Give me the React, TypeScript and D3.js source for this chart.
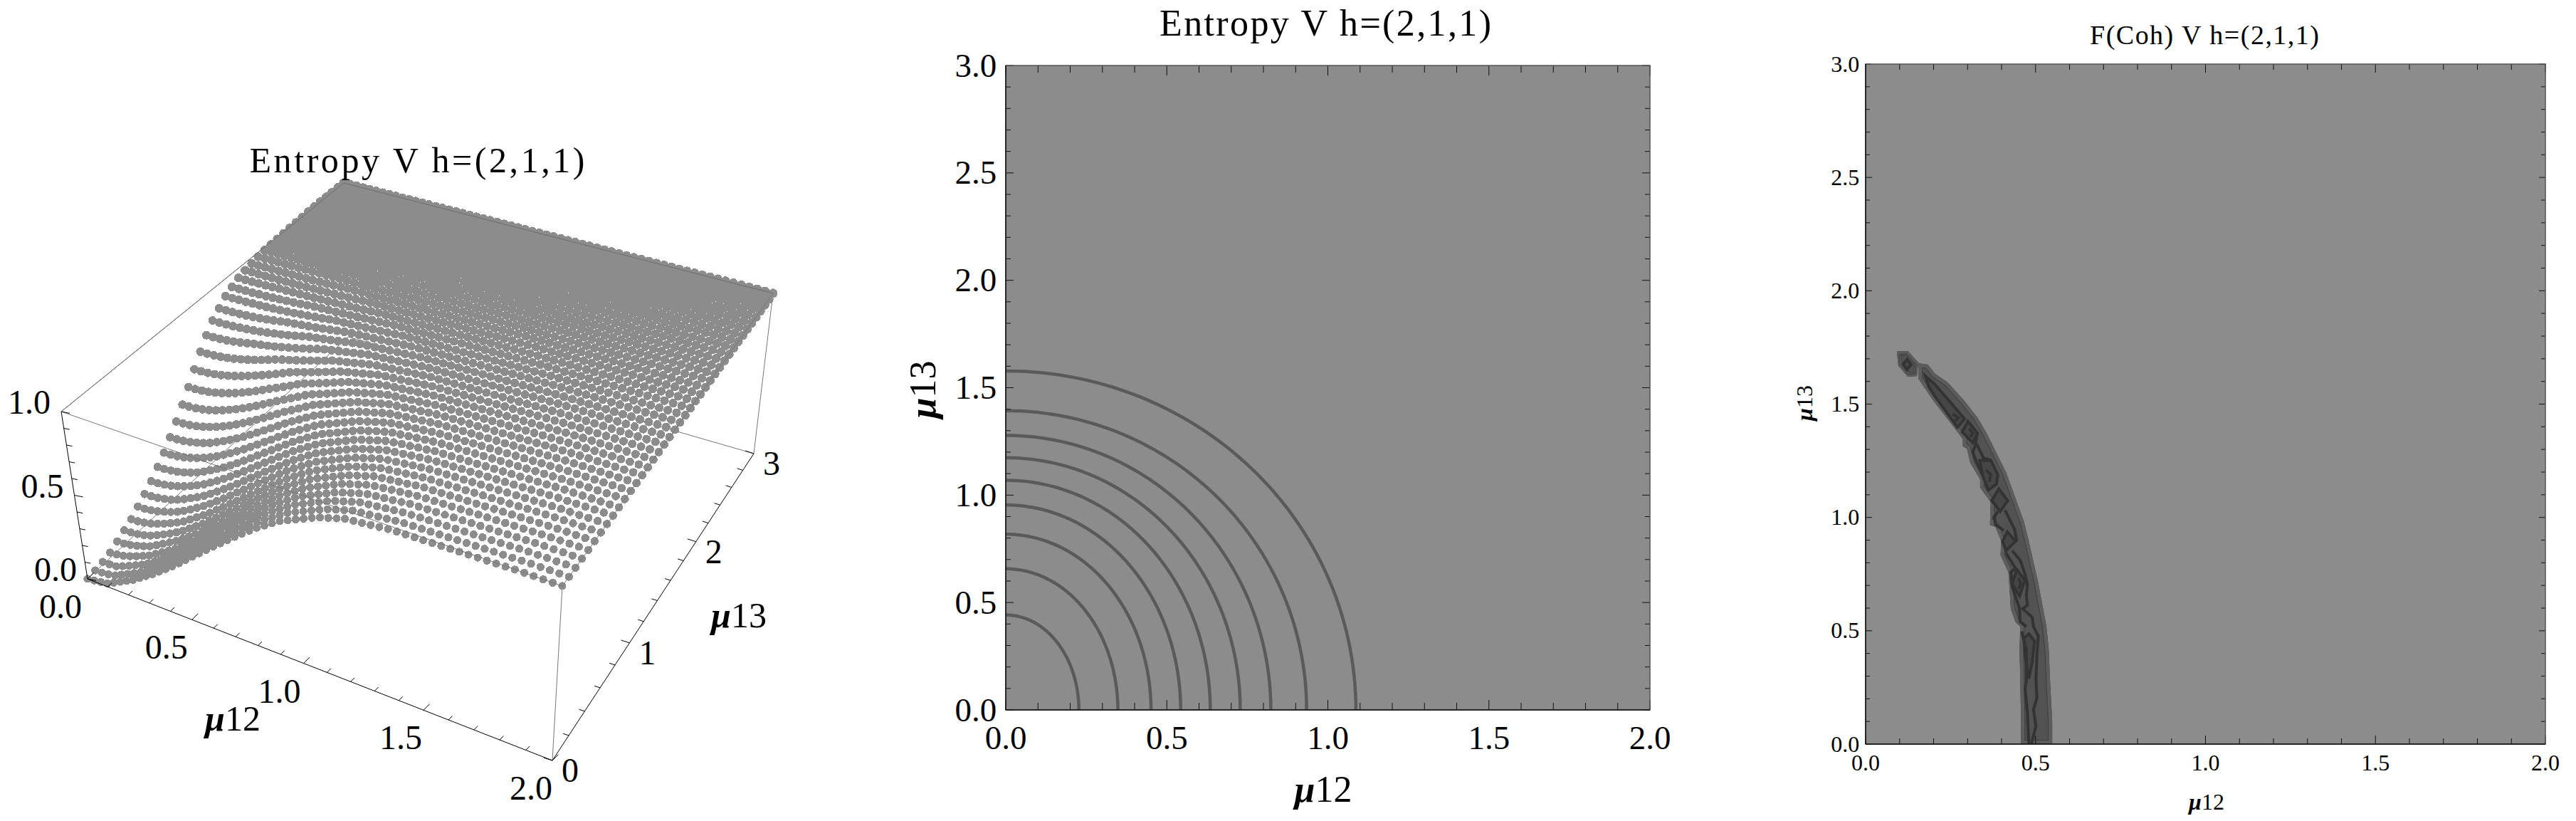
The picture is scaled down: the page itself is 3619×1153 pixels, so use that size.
import React from "react";
import * as d3 from "d3";

// ---------- data ----------
const entropyLevels = [0, 0.02, 0.1, 0.2, 0.3, 0.4, 0.5, 0.6, 0.7, 0.8, 0.9, 0.95, 0.98, 1];
const radiiMu12 = [0.001, 0.1, 0.227, 0.348, 0.451, 0.543, 0.635, 0.728, 0.823, 0.934, 1.087, 1.2, 1.38, 1.85];
const radiiMu13 = [0.002, 0.2, 0.442, 0.657, 0.818, 0.954, 1.069, 1.174, 1.278, 1.393, 1.578, 1.75, 2.0, 2.6];
const contourLevelIdx = [2, 3, 4, 5, 6, 7, 8, 9, 10];

const mu12Samples = d3.range(0, 61).map((i) => i / 30);
const mu13Samples = d3.range(0, 41).map((i) => (i * 3) / 40);

const mu12Ticks = [0, 0.5, 1, 1.5, 2];
const mu13Ticks = [0, 0.5, 1, 1.5, 2, 2.5, 3];
const mu13Ticks3D = [0, 1, 2, 3];
const zTicks = [0, 0.5, 1];

type P = [number, number];
const cohIsland: P[] = [[.092,1.733],[.125,1.733],[.155,1.683],[.151,1.623],[.124,1.621],[.096,1.670]];
const cohBand: P[] = [[.155,1.681],[.183,1.674],[.204,1.634],[.242,1.595],[.291,1.513],[.329,1.440],[.354,1.377],[.382,1.293],[.413,1.199],[.441,1.084],[.466,.979],[.480,.895],[.494,.801],[.507,.717],[.532,.518],[.539,.414],[.542,.298],[.549,.100],[.549,0],[.457,0],[.457,.120],[.455,.288],[.453,.414],[.455,.518],[.441,.539],[.427,.597],[.424,.675],[.420,.759],[.397,.833],[.399,.895],[.382,.958],[.366,.967],[.368,1.068],[.337,1.131],[.337,1.168],[.308,1.241],[.298,1.304],[.286,1.314],[.286,1.346],[.249,1.419],[.200,1.513],[.179,1.560],[.155,1.613]];
const cohClosed: P[][] = [
  [[.110,1.676],[.122,1.697],[.134,1.674],[.122,1.652]],
  [[.176,1.623],[.204,1.587],[.270,1.472],[.291,1.435],[.270,1.398],[.204,1.534],[.186,1.576]],
  [[.301,1.424],[.329,1.372],[.315,1.330],[.284,1.377]],
  [[.336,1.252],[.368,1.252],[.389,1.189],[.385,1.147],[.361,1.121],[.343,1.189]],
  [[.392,1.126],[.418,1.074],[.396,1.027],[.371,1.074]],
  [[.417,.937],[.441,.895],[.413,.853],[.403,.895]],
  [[.445,.770],[.469,.722],[.453,.654],[.431,.707]],
  [[.480,.487],[.497,.455],[.490,.361],[.480,.288],[.469,.393],[.466,.466]],
];
const cohOpen: P[][] = [
  [[.256,1.456],[.273,1.440],[.263,1.424]],
  [[.305,1.393],[.315,1.372],[.308,1.356]],
  [[.329,1.372],[.322,1.314],[.315,1.288],[.329,1.236],[.343,1.189]],
  [[.326,1.325],[.347,1.262],[.368,1.252]],
  [[.354,1.210],[.368,1.189],[.364,1.157]],
  [[.389,1.027],[.375,.990]],
  [[.378,1.011],[.382,.969],[.406,.943]],
  [[.410,1.032],[.438,.948],[.445,.896]],
  [[.431,.853],[.455,.811],[.469,.749],[.476,.707],[.473,.654],[.476,.612],[.462,.597],[.490,.560],[.494,.518],[.508,.476],[.504,.393],[.501,.288],[.504,.204],[.494,.152],[.501,.078],[.490,.016],[.488,0]],
  [[.413,.843],[.441,.775],[.427,.759],[.431,.696],[.452,.602],[.455,.539],[.473,.518]],
  [[.450,.733],[.457,.707],[.450,.684]],
  [[.459,.497],[.473,.414],[.473,.277],[.469,.246],[.476,.141],[.480,0]],
];
const cohThin: P[] = [[.099,1.718],[.120,1.723],[.148,1.676],[.146,1.634],[.125,1.631],[.101,1.676]];

// ---------- style ----------
const GREY = "#8c8c8c";
const FONT = "'Liberation Serif', serif";
const W = 3619, H = 1153;

// ---------- 3D projection: box corners as seen in the picture ----------
type Pt = [number, number];
function quadMap(p0: Pt, p1: Pt, p2: Pt, p3: Pt) {
  const dx1 = p1[0] - p2[0], dx2 = p3[0] - p2[0], sx = p0[0] - p1[0] + p2[0] - p3[0];
  const dy1 = p1[1] - p2[1], dy2 = p3[1] - p2[1], sy = p0[1] - p1[1] + p2[1] - p3[1];
  const den = dx1 * dy2 - dx2 * dy1;
  const g = (sx * dy2 - dx2 * sy) / den, h = (dx1 * sy - sx * dy1) / den;
  const a = p1[0] - p0[0] + g * p1[0], b = p3[0] - p0[0] + h * p3[0], c = p0[0];
  const d = p1[1] - p0[1] + g * p1[1], e = p3[1] - p0[1] + h * p3[1], f = p0[1];
  return (u: number, v: number): Pt => {
    const w = g * u + h * v + 1;
    return [(a * u + b * v + c) / w, (d * u + e * v + f) / w];
  };
}
const floorMap = quadMap([123, 813], [776, 1068], [1059, 637], [489, 473]);
const roofMap = quadMap([86, 578], [790, 823], [1086, 412], [483, 257]);
const uScale = d3.scaleLinear().domain([0, 2]).range([0, 1]);
const vScale = d3.scaleLinear().domain([0, 3]).range([0, 1]);
function project(m12: number, m13: number, z: number): Pt {
  const a = floorMap(uScale(m12), vScale(m13));
  const b = roofMap(uScale(m12), vScale(m13));
  return [a[0] + (b[0] - a[0]) * z, a[1] + (b[1] - a[1]) * z];
}
const aOf = d3.scaleLinear().domain(entropyLevels).range(radiiMu12);
const bOf = d3.scaleLinear().domain(entropyLevels).range(radiiMu13);
function entropyAt(x: number, y: number) {
  let lo = 0, hi = 1;
  if ((x / aOf(1)) ** 2 + (y / bOf(1)) ** 2 >= 1) return 1;
  for (let i = 0; i < 30; i++) {
    const m = (lo + hi) / 2;
    if ((x / aOf(m)) ** 2 + (y / bOf(m)) ** 2 > 1) lo = m; else hi = m;
  }
  return (lo + hi) / 2;
}

const seg = (p: Pt, q: Pt, stroke: string, key: string, w = 1) => (
  <line key={key} x1={p[0]} y1={p[1]} x2={q[0]} y2={q[1]} stroke={stroke} strokeWidth={w} />
);
const MuLabel = ({ n }: { n: string }) => (
  <>
    <tspan fontStyle="italic" fontWeight="bold">μ</tspan>
    <tspan>{n}</tspan>
  </>
);

function Surface3D() {
  const boxC = "#777";
  const P = project;
  const minor12 = d3.range(0, 21).map((i) => i / 10);
  const minor13 = d3.range(0, 16).map((i) => i / 5);
  const minorZ = d3.range(0, 11).map((i) => i / 10);
  const isMaj = (v: number, s: number) => Math.abs(v / s - Math.round(v / s)) < 1e-6;
  return (
    <g>
      {seg(P(0, 0, 0), P(0, 3, 0), boxC, "b1")}
      {seg(P(0, 3, 0), P(2, 3, 0), boxC, "b2")}
      {seg(P(2, 3, 0), P(2, 3, 1), boxC, "b3")}
      {seg(P(2, 0, 0), P(2, 0, 1), boxC, "b4")}
      {seg(P(0, 0, 1), P(0, 3, 1), boxC, "b5")}
      <g fill={GREY} shapeRendering="crispEdges">
        {mu12Samples.flatMap((a) =>
          mu13Samples.map((b) => {
            const [x, y] = P(a, b, entropyAt(a, b));
            return <circle key={`${a}-${b}`} cx={x} cy={y} r={5.6 + (1.0 * b) / 3} />;
          })
        )}
      </g>
      {seg(P(0, 0, 1), P(2, 0, 1), boxC, "t1")}
      {seg(P(2, 0, 1), P(2, 3, 1), boxC, "t2")}
      {seg(P(0, 3, 1), P(2, 3, 1), "#6c6c6c", "t3")}
      {seg(P(0, 0, 1), P(0, 3, 1), "#6c6c6c", "t4")}
      {seg(P(0, 0, 0), P(2, 0, 0), "#000", "a1")}
      {seg(P(2, 0, 0), P(2, 3, 0), "#000", "a2")}
      {seg(P(0, 0, 0), P(0, 0, 1), "#000", "a3")}
      <g stroke="#000" strokeWidth={1}>
        {minor12.map((t) => {
          const [x, y] = P(t, 0, 0);
          const l = isMaj(t, 0.5) ? 8.5 : 5.5;
          return <line key={t} x1={x} y1={y} x2={x + l} y2={y - l} />;
        })}
        {minor13.map((t) => {
          const [x, y] = P(2, t, 0);
          const l = isMaj(t, 1) ? 12 : 8;
          return <line key={t} x1={x} y1={y} x2={x - l} y2={y - l * 0.32} />;
        })}
        {minorZ.map((t) => {
          const [x, y] = P(0, 0, t);
          const l = isMaj(t, 0.5) ? 12 : 8;
          return <line key={t} x1={x} y1={y} x2={x + l} y2={y + l * 0.2} />;
        })}
      </g>
      <g fontFamily={FONT} fontSize={48} fill="#000">
        {mu12Ticks.map((t) => {
          const [x, y] = P(t, 0, 0);
          return <text key={t} x={x - 38 + 4 * t} y={y + 55} textAnchor="middle">{d3.format(".1f")(t)}</text>;
        })}
        {mu13Ticks3D.map((t) => {
          const [x, y] = P(2, t, 0);
          return <text key={t} x={x + 25} y={y + 30} textAnchor="middle">{t}</text>;
        })}
        {zTicks.map((t) => {
          const [x, y] = P(0, 0, t);
          return <text key={t} x={x - 15} y={y + 3} textAnchor="end">{d3.format(".1f")(t)}</text>;
        })}
      </g>
      <g fontFamily={FONT} fontSize={50} fill="#000" textAnchor="middle">
        <text x={327} y={1026}><MuLabel n="12" /></text>
        <text x={1038} y={881}><MuLabel n="13" /></text>
        <text x={586} y={242} textLength={471} lengthAdjust="spacing">Entropy V h=(2,1,1)</text>
      </g>
    </g>
  );
}

type Box = { l: number; r: number; t: number; b: number };
function Frame({ box, tickFont, maj, min, children }: { box: Box; tickFont: number; maj: [number, number]; min: [number, number]; children?: React.ReactNode }) {
  const x = d3.scaleLinear().domain([0, 2]).range([box.l, box.r]);
  const y = d3.scaleLinear().domain([0, 3]).range([box.b, box.t]);
  const xt = d3.range(0, 21).map((i) => i / 10);
  const yt = d3.range(0, 31).map((i) => i / 10);
  const isM = (v: number) => Math.abs(v * 2 - Math.round(v * 2)) < 1e-6;
  return (
    <g>
      <rect x={box.l} y={box.t} width={box.r - box.l} height={box.b - box.t} fill={GREY} />
      {children}
      <g stroke="#111" strokeWidth={1}>
        {xt.map((t) => {
          const l = isM(t) ? maj[0] : min[0];
          return (
            <g key={t}>
              <line x1={x(t)} x2={x(t)} y1={box.b} y2={box.b - l} />
              <line x1={x(t)} x2={x(t)} y1={box.t} y2={box.t + l} />
            </g>
          );
        })}
        {yt.map((t) => {
          const l = isM(t) ? maj[1] : min[1];
          return (
            <g key={t}>
              <line y1={y(t)} y2={y(t)} x1={box.l} x2={box.l + l} />
              <line y1={y(t)} y2={y(t)} x1={box.r} x2={box.r - l} />
            </g>
          );
        })}
      </g>
      <rect x={box.l} y={box.t} width={box.r - box.l} height={box.b - box.t} fill="none" stroke="#555" strokeWidth={1.5} />
      <line x1={box.l} x2={box.r} y1={box.b} y2={box.b} stroke="#111" strokeWidth={1.5} />
      <line x1={box.l} x2={box.l} y1={box.t} y2={box.b} stroke="#111" strokeWidth={1.5} />
      <g fontFamily={FONT} fontSize={tickFont} fill="#000">
        {mu12Ticks.map((t) => (
          <text key={t} x={x(t)} y={box.b + tickFont * 1.16} textAnchor="middle">{d3.format(".1f")(t)}</text>
        ))}
        {mu13Ticks.map((t) => (
          <text key={t} x={box.l - tickFont * 0.27} y={y(t) + tickFont * 0.33} textAnchor="end">{d3.format(".1f")(t)}</text>
        ))}
      </g>
    </g>
  );
}

function ContourPanel() {
  const box = { l: 1413, r: 2318, t: 92, b: 997 };
  const x = d3.scaleLinear().domain([0, 2]).range([box.l, box.r]);
  const y = d3.scaleLinear().domain([0, 3]).range([box.b, box.t]);
  const angles = d3.range(0, 91, 1.5).map((d) => (d * Math.PI) / 180);
  const line = d3.line<number>();
  return (
    <g>
      <clipPath id="p2"><rect x={box.l} y={box.t} width={box.r - box.l} height={box.b - box.t} /></clipPath>
      <Frame box={box} tickFont={47} maj={[14, 11]} min={[10, 7]}>
        <g clipPath="url(#p2)" fill="none" stroke="#5a5a5a" strokeWidth={4.5}>
          {contourLevelIdx.map((i) => (
            <path key={i} d={line(angles.map((a) => [x(radiiMu12[i] * Math.cos(a)), y(radiiMu13[i] * Math.sin(a))]) as any) as any} />
          ))}
        </g>
      </Frame>
      <g fontFamily={FONT} fontSize={52} fill="#000" textAnchor="middle">
        <text x={1862} y={50} textLength={466} lengthAdjust="spacing">Entropy V h=(2,1,1)</text>
        <text x={1859} y={1126}><MuLabel n="12" /></text>
        <text transform="translate(1314,547) rotate(-90)"><MuLabel n="13" /></text>
      </g>
    </g>
  );
}

function CohPanel() {
  const box = { l: 2621, r: 3576, t: 90, b: 1045 };
  const x = d3.scaleLinear().domain([0, 2]).range([box.l, box.r]);
  const y = d3.scaleLinear().domain([0, 3]).range([box.b, box.t]);
  const line = d3.line<P>().x((d) => x(d[0])).y((d) => y(d[1]));
  const closed = (p: P[]) => (line(p) as string) + "Z";
  const shapes = [closed(cohIsland), closed(cohBand)];
  return (
    <g>
      <clipPath id="p3a"><path d={shapes[0]} /></clipPath>
      <clipPath id="p3b"><path d={shapes[1]} /></clipPath>
      <Frame box={box} tickFont={32} maj={[12, 9]} min={[8, 6]}>
        {shapes.map((d, i) => (
          <g key={i} clipPath={`url(#p3${i ? "b" : "a"})`}>
            <path d={d} fill="#525252" />
            <path d={d} fill="none" stroke="#3f3f3f" strokeWidth={12} />
            <path d={d} fill="none" stroke="#5c5c5c" strokeWidth={10} />
          </g>
        ))}
        <path d={closed(cohThin)} fill="none" stroke="#3f3f3f" strokeWidth={1} />
        <g stroke="#333" strokeWidth={4} strokeLinejoin="miter">
          {cohClosed.map((p, i) => <path key={i} d={closed(p)} fill="#464646" />)}
          {cohOpen.map((p, i) => <path key={i} d={line(p) as string} fill="none" />)}
        </g>
      </Frame>
      <g fontFamily={FONT} fill="#000" textAnchor="middle">
        <text x={3097} y={62} fontSize={38} textLength={322} lengthAdjust="spacing">F(Coh) V h=(2,1,1)</text>
        <text x={3100} y={1137} fontSize={32}><MuLabel n="12" /></text>
        <text transform="translate(2546,566) rotate(-90)" fontSize={32}><MuLabel n="13" /></text>
      </g>
    </g>
  );
}

export default function App() {
  return (
    <svg width={W} height={H} viewBox={`0 0 ${W} ${H}`} style={{ position: "absolute", left: 0, top: 0, background: "#fff" }}>
      <Surface3D />
      <ContourPanel />
      <CohPanel />
    </svg>
  );
}
